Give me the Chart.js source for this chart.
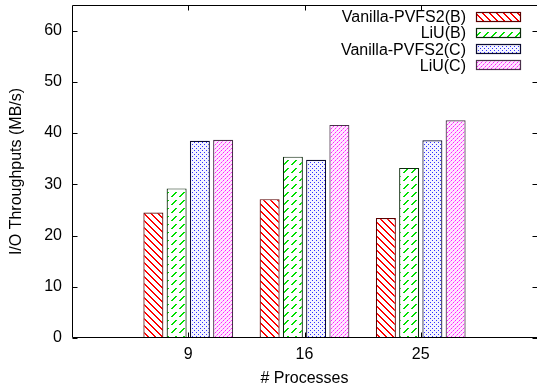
<!DOCTYPE html>
<html>
<head>
<meta charset="utf-8">
<script src="https://cdn.jsdelivr.net/npm/chart.js@4"></script>
<style>
  html, body { margin: 0; padding: 0; background: #fff; }
  #wrap { width: 537px; height: 389px; }
</style>
</head>
<body>
<div id="wrap"><canvas id="c" width="537" height="389"></canvas></div>
<script>
// ---- data ----
const categories = ['9', '16', '25'];
const seriesNames = ['Vanilla-PVFS2(B)', 'LiU(B)', 'Vanilla-PVFS2(C)', 'LiU(C)'];
const vanillaB = [24.5, 27.1, 23.4];
const liuB = [29.2, 35.4, 33.2];
const vanillaC = [38.5, 34.8, 38.6];
const liuC = [38.7, 41.6, 42.5];
const yTicks = [0, 10, 20, 30, 40, 50, 60];

// ---- patterns ----
function makeTile(w, h, bg, draw) {
  const c = document.createElement('canvas');
  c.width = w; c.height = h;
  const g = c.getContext('2d');
  g.fillStyle = bg;
  g.fillRect(0, 0, w, h);
  draw(g);
  return document.getElementById('c').getContext('2d').createPattern(c, 'repeat');
}
const patRed = makeTile(7, 7, '#ffffff', g => {
  g.fillStyle = '#ff0000';
  for (let y = 0; y < 7; y++) { g.fillRect(y % 7, y, 1, 1); g.fillRect((y + 1) % 7, y, 1, 1); }
});
const patGreen = makeTile(8, 8, '#ffffff', g => {
  g.fillStyle = '#00e000';
  for (let y = 0; y < 8; y++) {
    if (y < 5) { g.fillRect((7 - y + 8) % 8, y, 1, 1); g.fillRect((8 - y) % 8, y, 1, 1); }
  }
});
const patBlue = makeTile(4, 4, '#f4f4ff', g => {
  g.fillStyle = '#3030ff';
  g.fillRect(0, 0, 1, 1); g.fillRect(2, 2, 1, 1);
});
const patPink = makeTile(4, 4, '#ffe8ff', g => {
  g.fillStyle = '#ff20ff';
  g.fillRect(3, 0, 1, 1); g.fillRect(1, 2, 1, 1);
  g.fillStyle = '#ff88ff';
  g.fillRect(2, 1, 1, 1); g.fillRect(0, 3, 1, 1);
});

const fills = [patRed, patGreen, patBlue, patPink];
const borders = ['#5a0000', '#0c2a0c', '#0a0a30', '#4a304a'];
const values = [vanillaB, liuB, vanillaC, liuC];

const FONT = { family: "'Liberation Sans', Arial, sans-serif", size: 16 };

const frameAndLegend = {
  id: 'frameAndLegend',
  afterDatasetsDraw(chart) {
    const ctx = chart.ctx;
    const a = chart.chartArea;
    const xs = chart.scales.x, ys = chart.scales.y;
    ctx.save();
    ctx.strokeStyle = '#000';
    ctx.lineWidth = 1;
    ctx.beginPath();
    const L = Math.round(a.left) + 0.5, T = Math.round(a.top) + 0.5, B = Math.round(a.bottom) - 0.5, R = Math.round(a.right) + 0.5;
    ctx.moveTo(R, T); ctx.lineTo(L, T); ctx.lineTo(L, B); ctx.lineTo(R, B);
    // inward ticks
    ys.ticks.forEach(t => {
      const y = Math.round(ys.getPixelForValue(t.value)) + 0.5;
      ctx.moveTo(L, y); ctx.lineTo(L + 5, y);
      ctx.moveTo(R - 5, y); ctx.lineTo(R, y);
    });
    xs.ticks.forEach(t => {
      const x = Math.round(xs.getPixelForValue(t.value)) + 0.5;
      ctx.moveTo(x, B); ctx.lineTo(x, B - 5);
      ctx.moveTo(x, T); ctx.lineTo(x, T + 5);
    });
    ctx.stroke();

    // legend (top right, text left of sample)
    ctx.font = `${FONT.size}px ${FONT.family}`;
    ctx.textAlign = 'right';
    ctx.textBaseline = 'middle';
    const textRight = a.right - 71;
    const boxLeft = a.right - 61;
    const rowH = 16.2;
    const y0 = a.top + 11.7;
    chart.data.datasets.forEach((ds, i) => {
      const cy = y0 + i * rowH;
      ctx.fillStyle = '#000';
      ctx.fillText(ds.label, textRight, cy + 1);
      ctx.fillStyle = ds.backgroundColor;
      ctx.fillRect(boxLeft, Math.round(cy - 5), 45, 10);
      ctx.strokeStyle = ds.borderColor;
      ctx.lineWidth = 1.2;
      ctx.strokeRect(boxLeft + 0.5, Math.round(cy - 5) + 0.5, 44, 9);
    });
    ctx.restore();
  }
};

new Chart(document.getElementById('c'), {
  type: 'bar',
  data: {
    datasets: seriesNames.map((name, i) => ({
      label: name,
      data: values[i].map((v, j) => ({ x: j + 1, y: v })),
      backgroundColor: fills[i],
      borderColor: borders[i],
      borderWidth: 1.2,
      categoryPercentage: 0.8,
      barPercentage: 0.86
    }))
  },
  options: {
    responsive: false,
    animation: false,
    events: [],
    layout: { padding: { top: 5, right: 0, left: 0, bottom: 0 } },
    plugins: { legend: { display: false }, tooltip: { enabled: false } },
    scales: {
      x: {
        type: 'linear',
        min: 0, max: 4,
        offset: false,
        grid: { display: false, drawTicks: false },
        border: { display: false },
        afterBuildTicks: s => { s.ticks = categories.map((c, i) => ({ value: i + 1 })); },
        afterFit: s => { s.height = 51; s.paddingLeft = 0; s.paddingRight = 0; },
        ticks: {
          padding: 7,
          color: '#000',
          font: FONT,
          maxRotation: 0,
          callback: v => categories[v - 1]
        },
        title: { display: true, text: '# Processes', color: '#000', font: FONT, padding: { top: 0, bottom: 1 } }
      },
      y: {
        min: 0, max: 65,
        grid: { display: false, drawTicks: false },
        border: { display: false },
        afterBuildTicks: s => { s.ticks = yTicks.map(v => ({ value: v })); },
        afterFit: s => { s.width = 72; s.paddingTop = 0; s.paddingBottom = 0; },
        ticks: { padding: 10, color: '#000', font: FONT },
        title: { display: true, text: 'I/O Throughputs (MB/s)', color: '#000', font: FONT, padding: { top: 7, bottom: 0 } }
      }
    }
  },
  plugins: [frameAndLegend]
});
</script>
</body>
</html>
